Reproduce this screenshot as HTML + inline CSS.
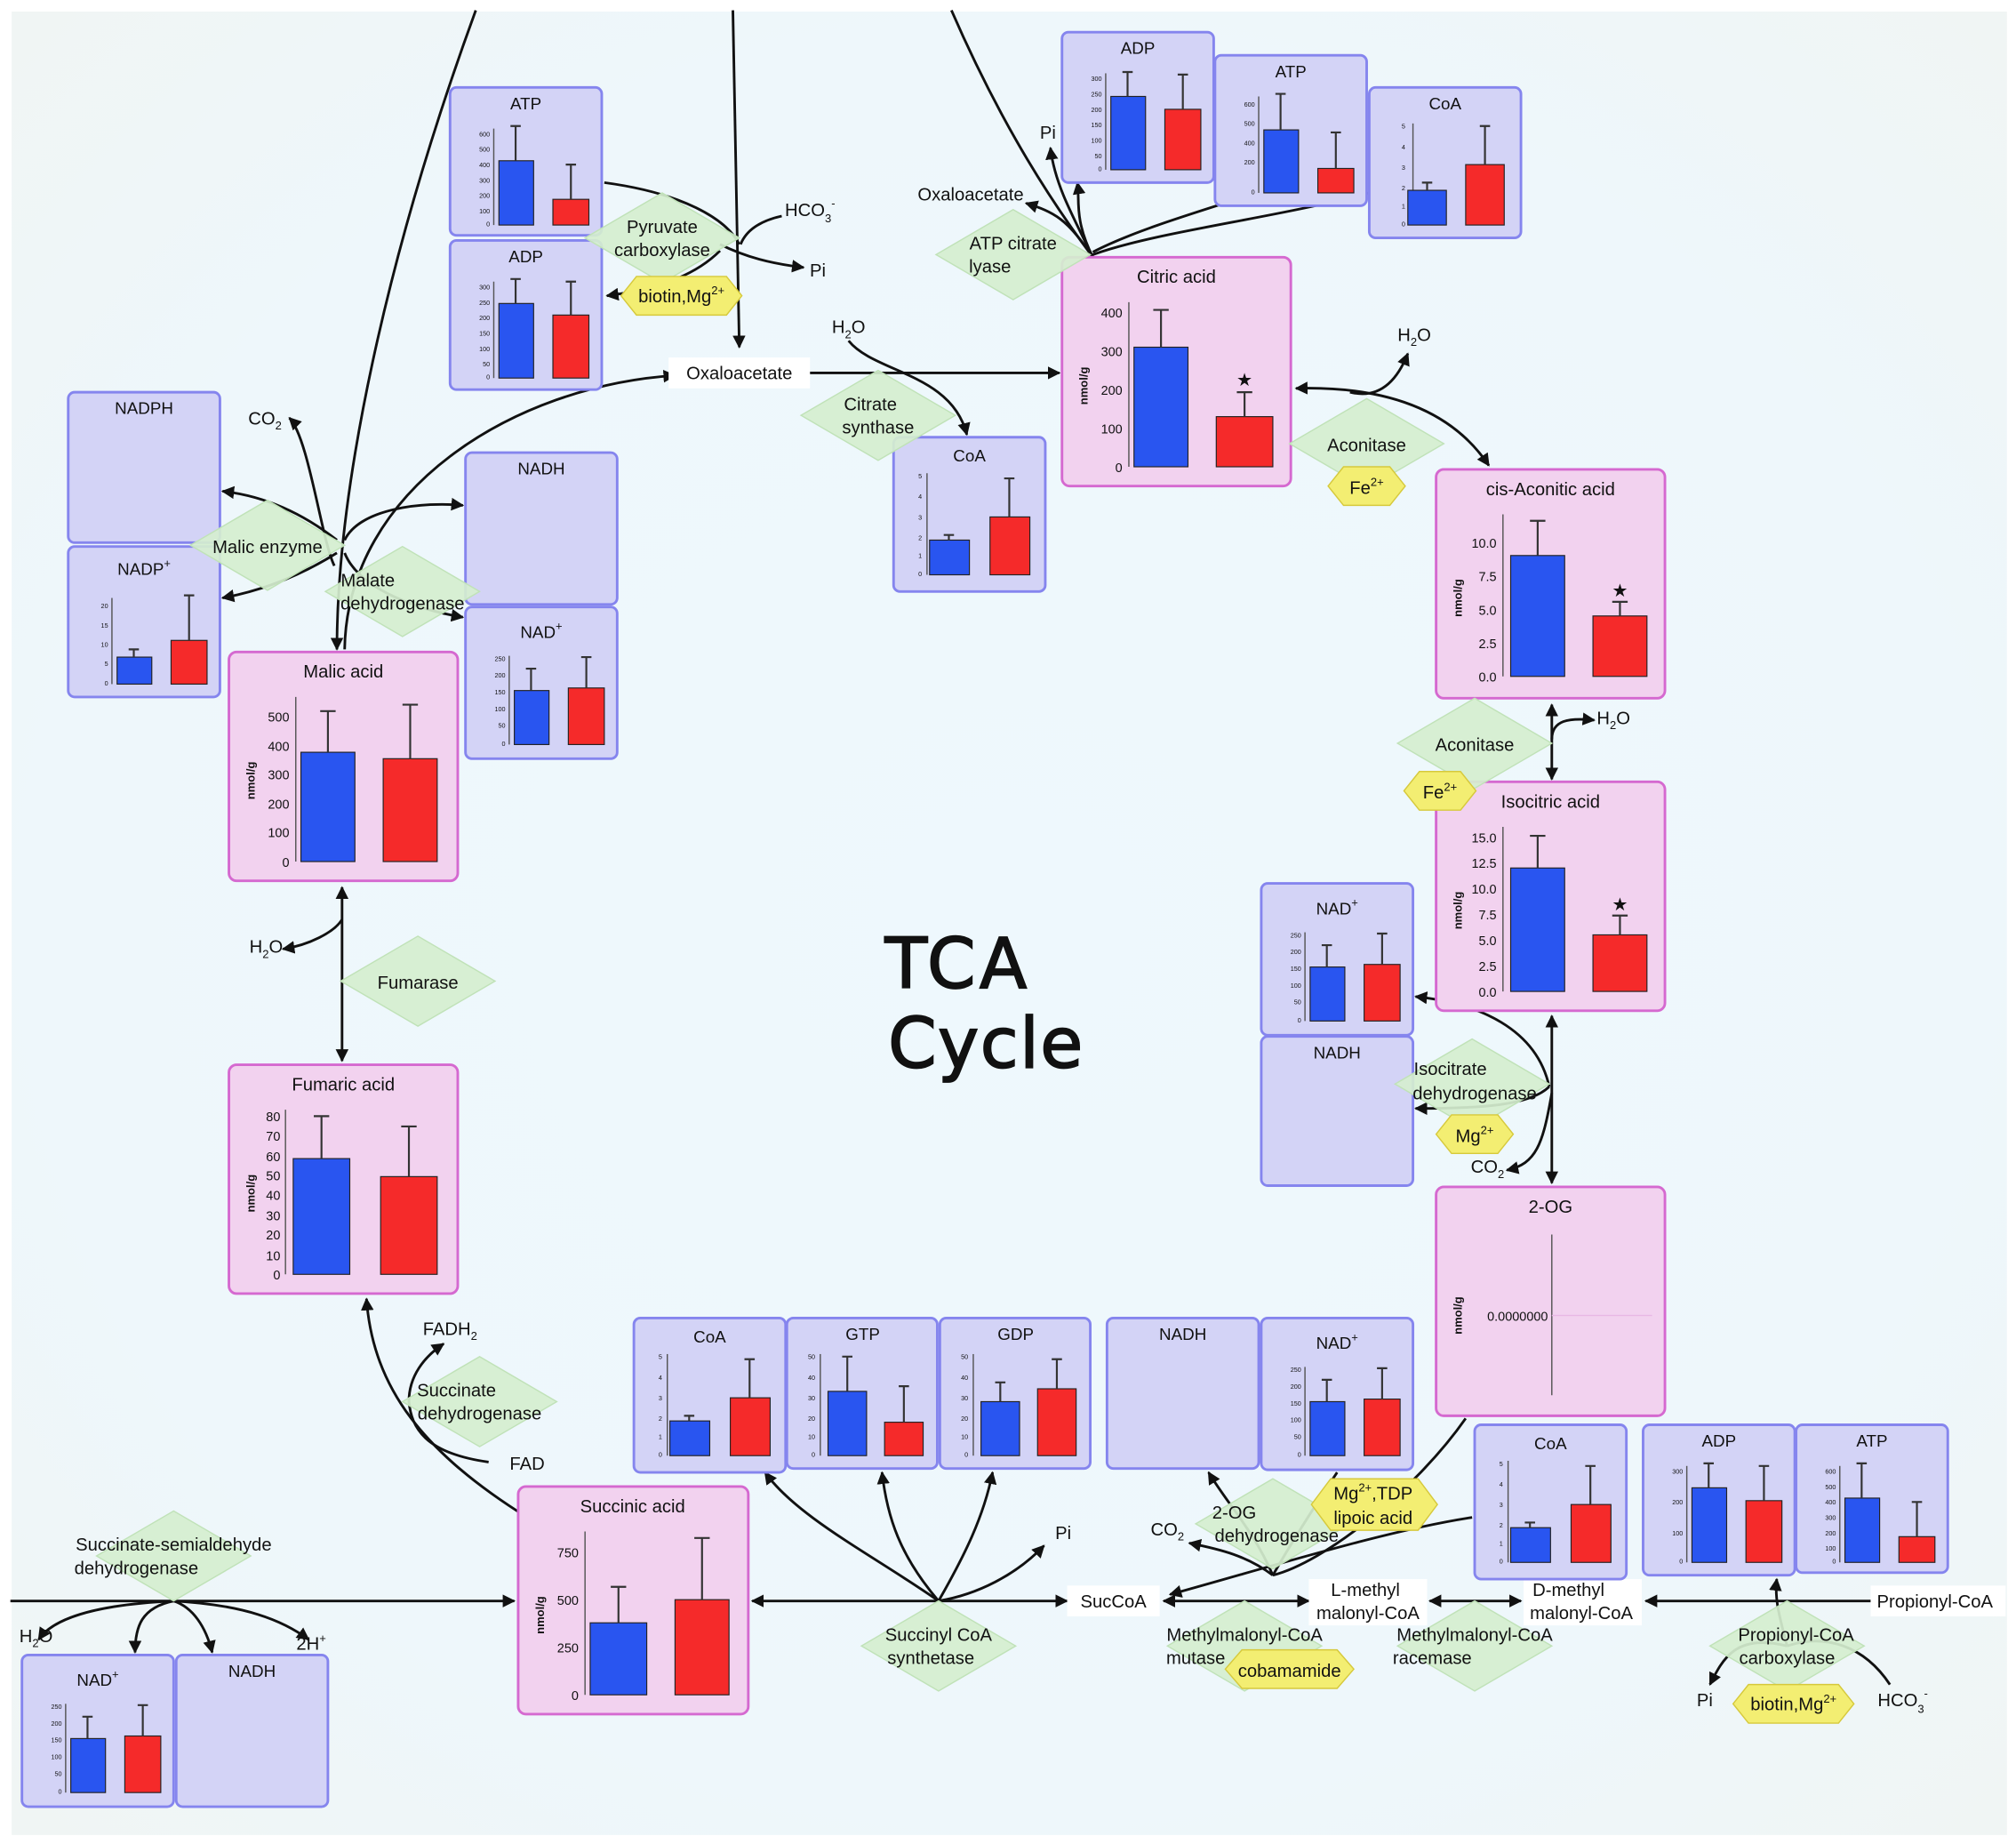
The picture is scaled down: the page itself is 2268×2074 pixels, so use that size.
<!DOCTYPE html>
<html><head><meta charset="utf-8"><style>
html,body{margin:0;padding:0;background:#fff}
svg{display:block}
text{font-family:"Liberation Sans","DejaVu Sans",sans-serif;fill:#111}
.t{font-size:13px;text-anchor:middle}
.tk{font-size:5px;text-anchor:end}
.bt{font-size:10px;text-anchor:end}
.yl{font-size:9px;text-anchor:middle;font-weight:bold}
.lb{font-size:14px;text-anchor:middle}
.en{font-size:14px;text-anchor:middle}
.sb{fill:#d3d3f6;stroke:#8585ee;stroke-width:2}
.pb{fill:#f2d2ef;stroke:#d569d0;stroke-width:2}
.bl{fill:#2955f0;stroke:#222;stroke-width:.8}
.rd{fill:#f52a2a;stroke:#222;stroke-width:.8}
.er{stroke:#333;stroke-width:1.5;fill:none}
.ax{stroke:#555;stroke-width:1}
.dm{fill:#d5eecf;stroke:#c0e2b8;stroke-width:1;fill-opacity:.92}
.hx{fill:#f3ee72;stroke:#d6c93c;stroke-width:1}
.ar{stroke:#111;stroke-width:2;fill:none;marker-end:url(#a)}
.ln{stroke:#111;stroke-width:2;fill:none}
.bi{stroke:#111;stroke-width:2;fill:none;marker-end:url(#a);marker-start:url(#b)}
</style></head><body>
<svg width="2268" height="2074" viewBox="0 0 1568 1434" xmlns="http://www.w3.org/2000/svg">
<defs>
<radialGradient id="bg" cx="50%" cy="50%" r="70%"><stop offset="0" stop-color="#eef8fd"/><stop offset="0.7" stop-color="#eef7fb"/><stop offset="1" stop-color="#f0f5f4"/></radialGradient>
<marker id="a" viewBox="0 0 10 10" refX="9" refY="5" markerWidth="5" markerHeight="5" orient="auto"><path d="M0,0L10,5L0,10z" fill="#111"/></marker>
<marker id="b" viewBox="0 0 10 10" refX="1" refY="5" markerWidth="5" markerHeight="5" orient="auto"><path d="M10,0L0,5L10,10z" fill="#111"/></marker>
</defs>
<rect x="0" y="0" width="1568" height="1434" fill="#fff"/>
<rect x="9" y="9" width="1552" height="1418" fill="url(#bg)"/>

<!-- connectors -->
<path class="ar" d="M370,8 C300,200 262,380 262,505"/>
<path class="ar" d="M570,8 L575,270"/>
<path class="ln" d="M740,8 C780,100 820,160 850,200"/>
<path class="ar" d="M600,290 L824,290"/>
<path class="ar" d="M268,505 C270,380 400,300 525,292"/>
<path class="ln" d="M470,142 C530,150 565,170 575,190"/>
<path class="ar" d="M560,190 C580,200 600,205 625,208"/>
<path class="ln" d="M608,168 C590,172 580,180 576,190"/>
<path class="ar" d="M560,195 C540,215 510,225 472,230"/>
<path class="ar" d="M660,265 C680,290 740,290 752,338"/>
<path class="ar" d="M850,200 C835,170 840,155 838,142"/>
<path class="ar" d="M850,200 C830,160 820,140 817,115"/>
<path class="ar" d="M850,200 C830,170 820,165 798,158"/>
<path class="ln" d="M1063,120 C990,150 900,170 850,196"/>
<path class="ln" d="M1065,150 C990,170 900,180 850,198"/>
<path class="bi" d="M1008,302 C1080,300 1130,320 1158,362"/>
<path class="ar" d="M1050,305 C1070,310 1085,300 1095,275"/>
<path class="bi" d="M1207,548 L1207,606"/>
<path class="ar" d="M1207,575 C1207,560 1220,558 1240,560"/>
<path class="bi" d="M1207,790 L1207,920"/>
<path class="ar" d="M1205,845 C1195,800 1150,780 1101,775"/>
<path class="ar" d="M1205,845 C1190,860 1150,862 1101,862"/>
<path class="ar" d="M1207,850 C1200,890 1195,905 1172,910"/>
<path class="ln" d="M1140,1103 C1100,1160 1030,1215 990,1225"/>
<path class="ar" d="M1145,1180 C1080,1190 1000,1215 910,1240"/>
<path class="ar" d="M990,1225 C970,1210 950,1205 925,1200"/>
<path class="ar" d="M990,1225 C975,1190 955,1170 940,1145"/>
<path class="ln" d="M990,1225 C1010,1190 1030,1160 1040,1145"/>
<path class="bi" d="M905,1245 L1018,1245"/>
<path class="bi" d="M1112,1245 L1183,1245"/>
<path class="ar" d="M1455,1245 L1280,1245"/>
<path class="ar" d="M1390,1280 C1350,1270 1340,1290 1330,1310"/>
<path class="ln" d="M1470,1310 C1450,1280 1420,1270 1390,1280"/>
<path class="ar" d="M1390,1280 C1385,1260 1380,1245 1382,1228"/>
<path class="bi" d="M585,1245 L830,1245"/>
<path class="ar" d="M730,1245 C680,1210 620,1180 595,1145"/>
<path class="ar" d="M730,1245 C700,1210 690,1180 686,1145"/>
<path class="ar" d="M730,1245 C750,1210 765,1180 772,1145"/>
<path class="ar" d="M730,1245 C760,1240 790,1225 812,1202"/>
<path class="ar" d="M8,1245 L400,1245"/>
<path class="ar" d="M135,1245 C70,1248 40,1260 30,1275"/>
<path class="ar" d="M135,1245 C110,1250 105,1265 105,1285"/>
<path class="ar" d="M135,1245 C150,1250 160,1265 165,1285"/>
<path class="ar" d="M135,1245 C190,1248 220,1260 240,1275"/>
<path class="ar" d="M410,1180 C330,1130 290,1080 285,1010"/>
<path class="ar" d="M380,1137 C330,1130 320,1110 318,1090 C318,1070 330,1055 345,1045"/>
<path class="bi" d="M266,690 L266,825"/>
<path class="ar" d="M266,715 C260,725 240,735 220,738"/>
<path class="ar" d="M260,440 C250,420 240,340 225,325"/>
<path class="ar" d="M262,420 C230,395 200,385 173,382"/>
<path class="ar" d="M262,430 C230,450 200,460 173,465"/>
<path class="ar" d="M268,420 C280,395 330,390 360,393"/>
<path class="ar" d="M268,430 C280,460 330,475 360,480"/>

<!-- labels -->
<g>
<text class="lb" x="630" y="168">HCO<tspan font-size="9" dy="5">3</tspan><tspan font-size="9" dy="-12">-</tspan></text>
<text class="lb" x="636" y="215">Pi</text>
<rect x="520" y="278" width="110" height="24" fill="#fff"/><text class="lb" x="575" y="295">Oxaloacetate</text>
<text class="lb" x="660" y="259">H<tspan font-size="9" dy="4">2</tspan><tspan dy="-4">O</tspan></text>
<text class="lb" x="755" y="156">Oxaloacetate</text>
<text class="lb" x="815" y="108">Pi</text>
<text class="lb" x="1100" y="265">H<tspan font-size="9" dy="4">2</tspan><tspan dy="-4">O</tspan></text>
<text class="lb" x="1255" y="563">H<tspan font-size="9" dy="4">2</tspan><tspan dy="-4">O</tspan></text>
<text class="lb" x="206" y="330">CO<tspan font-size="9" dy="4">2</tspan></text>
<text class="lb" x="207" y="741">H<tspan font-size="9" dy="4">2</tspan><tspan dy="-4">O</tspan></text>
<text class="lb" x="350" y="1038">FADH<tspan font-size="9" dy="4">2</tspan></text>
<text class="lb" x="410" y="1143">FAD</text>
<text class="lb" x="827" y="1197">Pi</text>
<rect x="830" y="1233" width="72" height="24" fill="#fff"/><text class="lb" x="866" y="1250">SucCoA</text>
<rect x="1018" y="1228" width="92" height="36" fill="#fff"/><text class="lb" x="1062" y="1241">L-methyl</text><text class="lb" x="1064" y="1259">malonyl-CoA</text>
<rect x="1185" y="1228" width="92" height="36" fill="#fff"/><text class="lb" x="1220" y="1241">D-methyl</text><text class="lb" x="1230" y="1259">malonyl-CoA</text>
<rect x="1455" y="1233" width="105" height="24" fill="#fff"/><text class="lb" x="1505" y="1250">Propionyl-CoA</text>
<text class="lb" x="908" y="1194">CO<tspan font-size="9" dy="4">2</tspan></text>
<text class="lb" x="1157" y="912">CO<tspan font-size="9" dy="4">2</tspan></text>
<text class="lb" x="28" y="1277">H<tspan font-size="9" dy="4">2</tspan><tspan dy="-4">O</tspan></text>
<text class="lb" x="242" y="1283">2H<tspan font-size="9" dy="-6">+</tspan></text>
<text class="lb" x="1326" y="1327">Pi</text>
<text class="lb" x="1480" y="1327">HCO<tspan font-size="9" dy="5">3</tspan><tspan font-size="9" dy="-12">-</tspan></text>
</g>
<text x="745" y="768" style="font-size:54px;text-anchor:middle;letter-spacing:3px;font-family:'DejaVu Sans',sans-serif;stroke:#111;stroke-width:1.2">TCA</text>
<text x="767" y="830" style="font-size:54px;text-anchor:middle;letter-spacing:1px;font-family:'DejaVu Sans',sans-serif;stroke:#111;stroke-width:1.2">Cycle</text>

<!-- small boxes -->
<g id="s1" transform="translate(350,68)"><rect class="sb" width="118" height="115" rx="5"/><text class="t" x="59" y="17">ATP</text><line class="ax" x1="34" y1="32" x2="34" y2="107"/><rect class="bl" x="38" y="57" width="27" height="50"/><rect class="rd" x="80" y="87" width="28" height="20"/><path class="er" d="M51,57V30M47,30h8M94,87V60M90,60h8"/><text class="tk" x="31" y="38">600</text><text class="tk" x="31" y="50">500</text><text class="tk" x="31" y="62">400</text><text class="tk" x="31" y="74">300</text><text class="tk" x="31" y="86">200</text><text class="tk" x="31" y="98">100</text><text class="tk" x="31" y="108">0</text></g>
<g transform="translate(350,187)"><rect class="sb" width="118" height="116" rx="5"/><text class="t" x="59" y="17">ADP</text><line class="ax" x1="34" y1="32" x2="34" y2="107"/><rect class="bl" x="38" y="49" width="27" height="58"/><rect class="rd" x="80" y="58" width="28" height="49"/><path class="er" d="M51,49V30M47,30h8M94,58V32M90,32h8"/><text class="tk" x="31" y="38">300</text><text class="tk" x="31" y="50">250</text><text class="tk" x="31" y="62">200</text><text class="tk" x="31" y="74">150</text><text class="tk" x="31" y="86">100</text><text class="tk" x="31" y="98">50</text><text class="tk" x="31" y="108">0</text></g>
<g transform="translate(53,305)"><rect class="sb" width="118" height="117" rx="5"/><text class="t" x="59" y="17">NADPH</text></g>
<g transform="translate(53,425)"><rect class="sb" width="118" height="117" rx="5"/><text class="t" x="59" y="22">NADP<tspan font-size="9" dy="-6">+</tspan></text><line class="ax" x1="34" y1="40" x2="34" y2="107"/><rect class="bl" x="38" y="86" width="27" height="21"/><rect class="rd" x="80" y="73" width="28" height="34"/><path class="er" d="M51,86V80M47,80h8M94,73V38M90,38h8"/><text class="tk" x="31" y="48">20</text><text class="tk" x="31" y="63">15</text><text class="tk" x="31" y="78">10</text><text class="tk" x="31" y="93">5</text><text class="tk" x="31" y="108">0</text></g>
<g transform="translate(362,352)"><rect class="sb" width="118" height="118" rx="5"/><text class="t" x="59" y="17">NADH</text></g>
<g id="nad" transform="translate(362,472)"><rect class="sb" width="118" height="118" rx="5"/><text class="t" x="59" y="24">NAD<tspan font-size="9" dy="-6">+</tspan></text><line class="ax" x1="34" y1="38" x2="34" y2="107"/><rect class="bl" x="38" y="65" width="27" height="42"/><rect class="rd" x="80" y="63" width="28" height="44"/><path class="er" d="M51,65V48M47,48h8M94,63V39M90,39h8"/><text class="tk" x="31" y="42">250</text><text class="tk" x="31" y="55">200</text><text class="tk" x="31" y="68">150</text><text class="tk" x="31" y="81">100</text><text class="tk" x="31" y="94">50</text><text class="tk" x="31" y="108">0</text></g>
<g transform="translate(826,25)"><rect class="sb" width="118" height="117" rx="5"/><text class="t" x="59" y="17">ADP</text><line class="ax" x1="34" y1="32" x2="34" y2="107"/><rect class="bl" x="38" y="50" width="27" height="57"/><rect class="rd" x="80" y="60" width="28" height="47"/><path class="er" d="M51,50V31M47,31h8M94,60V33M90,33h8"/><text class="tk" x="31" y="38">300</text><text class="tk" x="31" y="50">250</text><text class="tk" x="31" y="62">200</text><text class="tk" x="31" y="74">150</text><text class="tk" x="31" y="86">100</text><text class="tk" x="31" y="98">50</text><text class="tk" x="31" y="108">0</text></g>
<g transform="translate(945,43)"><rect class="sb" width="118" height="117" rx="5"/><text class="t" x="59" y="17">ATP</text><line class="ax" x1="34" y1="32" x2="34" y2="107"/><rect class="bl" x="38" y="58" width="27" height="49"/><rect class="rd" x="80" y="88" width="28" height="19"/><path class="er" d="M51,58V30M47,30h8M94,88V60M90,60h8"/><text class="tk" x="31" y="40">600</text><text class="tk" x="31" y="55">500</text><text class="tk" x="31" y="70">400</text><text class="tk" x="31" y="85">200</text><text class="tk" x="31" y="108">0</text></g>
<g transform="translate(1065,68)"><rect class="sb" width="118" height="117" rx="5"/><text class="t" x="59" y="17">CoA</text><line class="ax" x1="34" y1="28" x2="34" y2="107"/><rect class="bl" x="30" y="80" width="30" height="27"/><rect class="rd" x="75" y="60" width="30" height="47"/><path class="er" d="M45,80V74M41,74h8M90,60V30M86,30h8"/><text class="tk" x="28" y="32">5</text><text class="tk" x="28" y="48">4</text><text class="tk" x="28" y="64">3</text><text class="tk" x="28" y="80">2</text><text class="tk" x="28" y="94">1</text><text class="tk" x="28" y="108">0</text></g>
<g id="coa" transform="translate(695,340)"><rect class="sb" width="118" height="120" rx="5"/><text class="t" x="59" y="19">CoA</text><line class="ax" x1="26" y1="28" x2="26" y2="107"/><rect class="bl" x="28" y="80" width="31" height="27"/><rect class="rd" x="75" y="62" width="31" height="45"/><path class="er" d="M43,80V76M39,76h8M90,62V32M86,32h8"/><text class="tk" x="22" y="32">5</text><text class="tk" x="22" y="48">4</text><text class="tk" x="22" y="64">3</text><text class="tk" x="22" y="80">2</text><text class="tk" x="22" y="94">1</text><text class="tk" x="22" y="108">0</text></g>
<use href="#nad" transform="translate(619,215)"/>
<g transform="translate(981,806)"><rect class="sb" width="118" height="116" rx="5"/><text class="t" x="59" y="17">NADH</text></g>
<use href="#coa" transform="translate(-202,685)"/>
<g transform="translate(612,1025)"><rect class="sb" width="117" height="117" rx="5"/><text class="t" x="59" y="17">GTP</text><line class="ax" x1="26" y1="28" x2="26" y2="107"/><rect class="bl" x="32" y="57" width="30" height="50"/><rect class="rd" x="76" y="81" width="30" height="26"/><path class="er" d="M47,57V30M43,30h8M91,81V53M87,53h8"/><text class="tk" x="22" y="32">50</text><text class="tk" x="22" y="48">40</text><text class="tk" x="22" y="64">30</text><text class="tk" x="22" y="80">20</text><text class="tk" x="22" y="94">10</text><text class="tk" x="22" y="108">0</text></g>
<g transform="translate(731,1025)"><rect class="sb" width="117" height="117" rx="5"/><text class="t" x="59" y="17">GDP</text><line class="ax" x1="26" y1="28" x2="26" y2="107"/><rect class="bl" x="32" y="65" width="30" height="42"/><rect class="rd" x="76" y="55" width="30" height="52"/><path class="er" d="M47,65V50M43,50h8M91,55V32M87,32h8"/><text class="tk" x="22" y="32">50</text><text class="tk" x="22" y="48">40</text><text class="tk" x="22" y="64">30</text><text class="tk" x="22" y="80">20</text><text class="tk" x="22" y="94">10</text><text class="tk" x="22" y="108">0</text></g>
<g transform="translate(861,1025)"><rect class="sb" width="118" height="117" rx="5"/><text class="t" x="59" y="17">NADH</text></g>
<use href="#nad" transform="translate(619,553)"/>
<use href="#coa" transform="translate(452,768)"/>
<g transform="translate(1278,1108)"><rect class="sb" width="118" height="117" rx="5"/><text class="t" x="59" y="17">ADP</text><line class="ax" x1="34" y1="32" x2="34" y2="107"/><rect class="bl" x="38" y="49" width="27" height="58"/><rect class="rd" x="80" y="59" width="28" height="48"/><path class="er" d="M51,49V30M47,30h8M94,59V32M90,32h8"/><text class="tk" x="31" y="38">300</text><text class="tk" x="31" y="62">200</text><text class="tk" x="31" y="86">100</text><text class="tk" x="31" y="108">0</text></g>
<use href="#s1" transform="translate(1047,1040)"/>
<use href="#nad" transform="translate(-345,815)"/>
<g transform="translate(137,1287)"><rect class="sb" width="118" height="118" rx="5"/><text class="t" x="59" y="17">NADH</text></g>

<!-- big pink charts -->
<g transform="translate(826,200)"><rect class="pb" width="178" height="178" rx="6"/><text class="lb" x="89" y="20">Citric acid</text><text class="yl" transform="translate(20,100) rotate(-90)">nmol/g</text><line class="ax" x1="52" y1="35" x2="52" y2="163"/><rect class="bl" x="56" y="70" width="42" height="93"/><rect class="rd" x="120" y="124" width="44" height="39"/><path class="er" d="M77,70V41M71,41h12M142,124V105M136,105h12"/><text x="142" y="100" class="t" style="font-size:14px">★</text><text class="bt" x="47" y="47">400</text><text class="bt" x="47" y="77">300</text><text class="bt" x="47" y="107">200</text><text class="bt" x="47" y="137">100</text><text class="bt" x="47" y="167">0</text></g>
<g transform="translate(1117,365)"><rect class="pb" width="178" height="178" rx="6"/><text class="lb" x="89" y="20">cis-Aconitic acid</text><text class="yl" transform="translate(20,100) rotate(-90)">nmol/g</text><line class="ax" x1="52" y1="35" x2="52" y2="161"/><rect class="bl" x="58" y="67" width="42" height="94"/><rect class="rd" x="122" y="114" width="42" height="47"/><path class="er" d="M79,67V40M73,40h12M143,114V103M137,103h12"/><text x="143" y="99" class="t" style="font-size:14px">★</text><text class="bt" x="47" y="61">10.0</text><text class="bt" x="47" y="87">7.5</text><text class="bt" x="47" y="113">5.0</text><text class="bt" x="47" y="139">2.5</text><text class="bt" x="47" y="165">0.0</text></g>
<g transform="translate(1117,608)"><rect class="pb" width="178" height="178" rx="6"/><text class="lb" x="89" y="20">Isocitric acid</text><text class="yl" transform="translate(20,100) rotate(-90)">nmol/g</text><line class="ax" x1="52" y1="35" x2="52" y2="163"/><rect class="bl" x="58" y="67" width="42" height="96"/><rect class="rd" x="122" y="119" width="42" height="44"/><path class="er" d="M79,67V42M73,42h12M143,119V104M137,104h12"/><text x="143" y="100" class="t" style="font-size:14px">★</text><text class="bt" x="47" y="47">15.0</text><text class="bt" x="47" y="67">12.5</text><text class="bt" x="47" y="87">10.0</text><text class="bt" x="47" y="107">7.5</text><text class="bt" x="47" y="127">5.0</text><text class="bt" x="47" y="147">2.5</text><text class="bt" x="47" y="167">0.0</text></g>
<g transform="translate(1117,923)"><rect class="pb" width="178" height="178" rx="6"/><text class="lb" x="89" y="20">2-OG</text><text class="yl" transform="translate(20,100) rotate(-90)">nmol/g</text><line class="ax" x1="90" y1="37" x2="90" y2="162"/><line x1="90" y1="100" x2="168" y2="100" stroke="#e8b8e4"/><text class="bt" x="87" y="104">0.0000000</text></g>
<g transform="translate(178,507)"><rect class="pb" width="178" height="178" rx="6"/><text class="lb" x="89" y="20">Malic acid</text><text class="yl" transform="translate(20,100) rotate(-90)">nmol/g</text><line class="ax" x1="52" y1="35" x2="52" y2="163"/><rect class="bl" x="56" y="78" width="42" height="85"/><rect class="rd" x="120" y="83" width="42" height="80"/><path class="er" d="M77,78V46M71,46h12M141,83V41M135,41h12"/><text class="bt" x="47" y="54">500</text><text class="bt" x="47" y="77">400</text><text class="bt" x="47" y="99">300</text><text class="bt" x="47" y="122">200</text><text class="bt" x="47" y="144">100</text><text class="bt" x="47" y="167">0</text></g>
<g transform="translate(178,828)"><rect class="pb" width="178" height="178" rx="6"/><text class="lb" x="89" y="20">Fumaric acid</text><text class="yl" transform="translate(20,100) rotate(-90)">nmol/g</text><line class="ax" x1="44" y1="35" x2="44" y2="163"/><rect class="bl" x="50" y="73" width="44" height="90"/><rect class="rd" x="118" y="87" width="44" height="76"/><path class="er" d="M72,73V40M66,40h12M140,87V48M134,48h12"/><text class="bt" x="40" y="44">80</text><text class="bt" x="40" y="59">70</text><text class="bt" x="40" y="75">60</text><text class="bt" x="40" y="90">50</text><text class="bt" x="40" y="105">40</text><text class="bt" x="40" y="121">30</text><text class="bt" x="40" y="136">20</text><text class="bt" x="40" y="152">10</text><text class="bt" x="40" y="167">0</text></g>
<g transform="translate(403,1156)"><rect class="pb" width="179" height="177" rx="6"/><text class="lb" x="89" y="20">Succinic acid</text><text class="yl" transform="translate(20,100) rotate(-90)">nmol/g</text><line class="ax" x1="52" y1="35" x2="52" y2="162"/><rect class="bl" x="56" y="106" width="44" height="56"/><rect class="rd" x="122" y="88" width="42" height="74"/><path class="er" d="M78,106V78M72,78h12M143,88V40M137,40h12"/><text class="bt" x="47" y="55">750</text><text class="bt" x="47" y="92">500</text><text class="bt" x="47" y="129">250</text><text class="bt" x="47" y="166">0</text></g>

<!-- enzyme diamonds (on top) -->
<g>
<polygon class="dm" points="455,185 515,150 575,185 515,220"/><text class="en" x="515" y="181">Pyruvate</text><text class="en" x="515" y="199">carboxylase</text>
<polygon class="dm" points="728,198 788,163 848,198 788,233"/><text class="en" x="788" y="194">ATP citrate</text><text class="en" x="770" y="212">lyase</text>
<polygon class="dm" points="623,323 683,288 743,323 683,358"/><text class="en" x="677" y="319">Citrate</text><text class="en" x="683" y="337">synthase</text>
<polygon class="dm" points="1003,345 1063,310 1123,345 1063,380"/><text class="en" x="1063" y="351">Aconitase</text>
<polygon class="dm" points="1087,578 1147,543 1207,578 1147,613"/><text class="en" x="1147" y="584">Aconitase</text>
<polygon class="dm" points="148,424 208,389 268,424 208,459"/><text class="en" x="208" y="430">Malic enzyme</text>
<polygon class="dm" points="253,460 313,425 373,460 313,495"/><text class="en" x="286" y="456">Malate</text><text class="en" x="313" y="474">dehydrogenase</text>
<polygon class="dm" points="265,763 325,728 385,763 325,798"/><text class="en" x="325" y="769">Fumarase</text>
<polygon class="dm" points="1085,843 1145,808 1205,843 1145,878"/><text class="en" x="1128" y="836">Isocitrate</text><text class="en" x="1147" y="855">dehydrogenase</text>
<polygon class="dm" points="313,1090 373,1055 433,1090 373,1125"/><text class="en" x="355" y="1086">Succinate</text><text class="en" x="373" y="1104">dehydrogenase</text>
<polygon class="dm" points="75,1210 135,1175 195,1210 135,1245"/><text class="en" x="135" y="1206">Succinate-semialdehyde</text><text class="en" x="106" y="1224">dehydrogenase</text>
<polygon class="dm" points="670,1280 730,1245 790,1280 730,1315"/><text class="en" x="730" y="1276">Succinyl CoA</text><text class="en" x="724" y="1294">synthetase</text>
<polygon class="dm" points="930,1185 990,1150 1050,1185 990,1220"/><text class="en" x="960" y="1181">2-OG</text><text class="en" x="993" y="1199">dehydrogenase</text>
<polygon class="dm" points="908,1280 968,1245 1028,1280 968,1315"/><text class="en" x="968" y="1276">Methylmalonyl-CoA</text><text class="en" x="930" y="1294">mutase</text>
<polygon class="dm" points="1087,1280 1147,1245 1207,1280 1147,1315"/><text class="en" x="1147" y="1276">Methylmalonyl-CoA</text><text class="en" x="1114" y="1294">racemase</text>
<polygon class="dm" points="1330,1280 1390,1245 1450,1280 1390,1315"/><text class="en" x="1397" y="1276">Propionyl-CoA</text><text class="en" x="1390" y="1294">carboxylase</text>
</g>
<!-- cofactor hexagons -->
<polygon class="hx" points="483,230 495,215 565,215 577,230 565,245 495,245"/><text class="en" x="530" y="235">biotin,Mg<tspan font-size="9" dy="-6">2+</tspan></text>
<polygon class="hx" points="1033,378 1045,363 1081,363 1093,378 1081,393 1045,393"/><text class="en" x="1063" y="384">Fe<tspan font-size="9" dy="-6">2+</tspan></text>
<polygon class="hx" points="1092,615 1104,600 1136,600 1148,615 1136,630 1104,630"/><text class="en" x="1120" y="621">Fe<tspan font-size="9" dy="-6">2+</tspan></text>
<polygon class="hx" points="1117,882 1129,867 1165,867 1177,882 1165,897 1129,897"/><text class="en" x="1147" y="888">Mg<tspan font-size="9" dy="-6">2+</tspan></text>
<polygon class="hx" points="1020,1170 1035,1150 1103,1150 1118,1170 1103,1190 1035,1190"/><text class="en" x="1068" y="1166">Mg<tspan font-size="9" dy="-6">2+</tspan><tspan dy="6">,TDP</tspan></text><text class="en" x="1068" y="1185">lipoic acid</text>
<polygon class="hx" points="953,1298 966,1283 1040,1283 1053,1298 1040,1313 966,1313"/><text class="en" x="1003" y="1304">cobamamide</text>
<polygon class="hx" points="1348,1325 1360,1310 1430,1310 1442,1325 1430,1340 1360,1340"/><text class="en" x="1395" y="1330">biotin,Mg<tspan font-size="9" dy="-6">2+</tspan></text>
</svg>
</body></html>
